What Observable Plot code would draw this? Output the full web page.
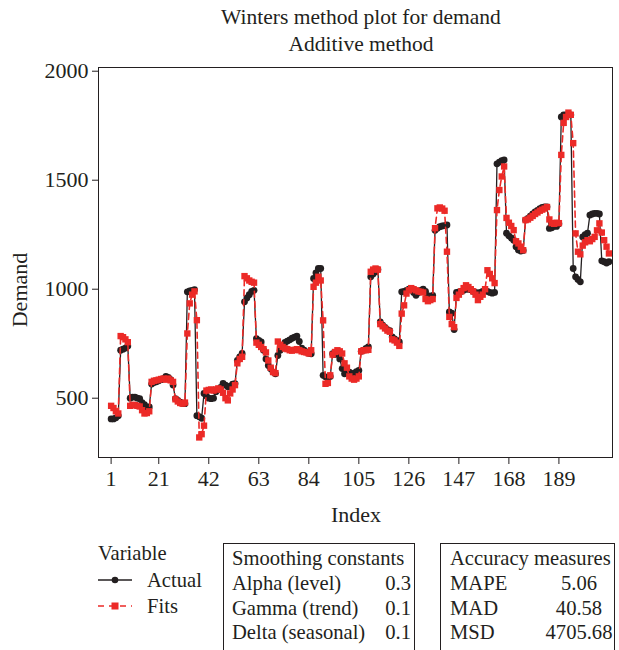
<!DOCTYPE html>
<html>
<head>
<meta charset="utf-8">
<script src="https://cdn.jsdelivr.net/npm/d3@7"></script>
<script src="https://cdn.jsdelivr.net/npm/@observablehq/plot@0.6"></script>
<style>
  html, body { margin: 0; padding: 0; background: #fff; overflow: hidden; }
  #wrap { position: relative; width: 619px; height: 650px; font-family: "Liberation Serif", serif; color: #231f20; }
  .t { position: absolute; white-space: nowrap; line-height: 1; }
  #chart { position: absolute; left: 0; top: 60px; }
  .box { position: absolute; border: 1px solid #231f20; }
  .lg { font-size: 20.6px; }
</style>
</head>
<body>
<div id="wrap">
  <div class="t" style="left:0;width:722px;text-align:center;top:7px;font-size:21.5px;">Winters method plot for demand</div>
  <div class="t" style="left:0;width:722px;text-align:center;top:34px;font-size:21.5px;">Additive method</div>
  <div id="chart"></div>
  <div class="t" style="left:0;width:712px;text-align:center;top:504px;font-size:22px;">Index</div>
  <div class="t" style="left:20px;top:290px;font-size:22px;transform:translate(-50%,-50%) rotate(-90deg);">Demand</div>

  <div class="t lg" style="left:98px;top:543px;">Variable</div>
  <svg style="position:absolute;left:95px;top:570px;" width="45" height="50">
    <line x1="3" x2="37" y1="10" y2="10" stroke="#231f20" stroke-width="1.3"/>
    <circle cx="20" cy="10" r="3.3" fill="#231f20"/>
    <line x1="3" x2="37" y1="36" y2="36" stroke="#ec2a27" stroke-width="1.6" stroke-dasharray="6,5"/>
    <rect x="16.5" y="32.5" width="7" height="7" fill="#ec2a27"/>
  </svg>
  <div class="t lg" style="left:147px;top:570px;">Actual</div>
  <div class="t lg" style="left:147px;top:596px;">Fits</div>

  <div class="box" style="left:223px;top:543px;width:190px;height:120px;"></div>
  <div class="t lg" style="left:232px;top:548px;">Smoothing constants</div>
  <div class="t lg" id="s1" style="left:232px;top:573px;"></div>
  <div class="t lg" id="s2" style="left:232px;top:598px;"></div>
  <div class="t lg" id="s3" style="left:232px;top:622px;"></div>
  <div class="t lg" id="v1" style="left:351px;width:60px;text-align:right;top:573px;"></div>
  <div class="t lg" id="v2" style="left:351px;width:60px;text-align:right;top:598px;"></div>
  <div class="t lg" id="v3" style="left:351px;width:60px;text-align:right;top:622px;"></div>

  <div class="box" style="left:440px;top:543px;width:173px;height:120px;"></div>
  <div class="t lg" style="left:450px;top:548px;">Accuracy measures</div>
  <div class="t lg" id="a1" style="left:450px;top:573px;"></div>
  <div class="t lg" id="a2" style="left:450px;top:598px;"></div>
  <div class="t lg" id="a3" style="left:450px;top:622px;"></div>
  <div class="t lg" id="m1" style="left:529px;width:100px;text-align:center;top:573px;"></div>
  <div class="t lg" id="m2" style="left:529px;width:100px;text-align:center;top:598px;"></div>
  <div class="t lg" id="m3" style="left:529px;width:100px;text-align:center;top:622px;"></div>
</div>
<script>
const actual = [
  405, 405, 410, 420, 720, 725, 730, 740, 500, 505,
  505, 500, 498, 480, 470, 460, 460, 565, 572, 575,
  580, 585, 590, 600, 595, 585, 560, 498, 490, 482,
  476, 475, 988, 992, 995, 998, 420, 415, 408, 522,
  510, 500, 498, 500, 530, 540, 550, 568, 560, 552,
  555, 565, 567, 673, 690, 705, 942, 960, 975, 990,
  995, 773, 765, 758, 720, 680, 650, 635, 620, 612,
  696, 720, 740, 756, 762, 768, 775, 780, 785, 760,
  730, 720, 712, 706, 704, 1049, 1075, 1095, 1095, 605,
  598, 595, 600, 704, 700, 710, 680, 636, 612, 622,
  620, 605, 615, 622, 627, 715, 720, 728, 735, 1057,
  1070, 1080, 1090, 850, 835, 825, 815, 810, 781, 772,
  765, 758, 988, 990, 995, 1000, 998, 985, 972, 985,
  995, 1000, 990, 970, 965, 972, 1270, 1280, 1287, 1290,
  1292, 1295, 896, 890, 815, 985, 988, 990, 995, 1000,
  1000, 998, 990, 985, 982, 985, 990, 995, 990, 985,
  982, 985, 1575, 1583, 1590, 1593, 1257, 1245, 1235, 1225,
  1195, 1180, 1175, 1178, 1318, 1325, 1335, 1345, 1355, 1362,
  1370, 1375, 1378, 1378, 1279, 1282, 1290, 1288, 1300, 1790,
  1800, 1800, 1800, 1800, 1095, 1057, 1045, 1034, 1240, 1250,
  1257, 1340, 1345, 1348, 1348, 1345, 1130, 1126, 1120, 1126
];
const fits = [
  465, 455, 440, 430, 785, 780, 770, 757, 465, 470,
  468, 465, 462, 445, 430, 432, 440, 575, 580, 582,
  585, 588, 590, 585, 590, 582, 575, 495, 485, 478,
  475, 480, 797, 935, 975, 990, 858, 320, 335, 374,
  535, 538, 540, 535, 540, 545, 540, 525, 500, 490,
  522, 540, 560, 660, 680, 690, 1060, 1050, 1040, 1034,
  1030, 755, 745, 735, 725, 710, 673, 640, 620, 615,
  760, 745, 735, 728, 725, 720, 718, 722, 725, 720,
  715, 712, 710, 705, 720, 1011, 1030, 1057, 1040, 857,
  566, 570, 605, 700, 712, 720, 715, 705, 660, 640,
  600, 590, 585, 590, 600, 715, 720, 720, 722, 1080,
  1090, 1095, 1090, 840, 830, 820, 810, 805, 770, 765,
  755, 740, 888, 926, 980, 995, 1005, 1000, 995, 990,
  988, 985, 955, 945, 950, 955, 1280, 1371, 1375, 1370,
  1360, 1172, 873, 840, 826, 960, 975, 990, 1005, 1018,
  1010, 1000, 990, 975, 950, 965, 975, 1000, 1087, 1070,
  1050, 1028, 1363, 1455, 1517, 1563, 1327, 1305, 1290, 1271,
  1220, 1210, 1195, 1179, 1317, 1320, 1328, 1336, 1345, 1352,
  1360, 1365, 1370, 1377, 1320, 1303, 1300, 1305, 1303, 1616,
  1763, 1790, 1810, 1800, 1670, 1256, 1172, 1160, 1200, 1215,
  1225, 1220, 1230, 1240, 1270, 1302, 1260, 1225, 1195, 1164
];
const xTicks = [1, 21, 42, 63, 84, 105, 126, 147, 168, 189];
const yTicks = [500, 1000, 1500, 2000];
const smoothingLabels = ["Alpha (level)", "Gamma (trend)", "Delta (seasonal)"];
const smoothingValues = ["0.3", "0.1", "0.1"];
const accuracyLabels = ["MAPE", "MAD", "MSD"];
const accuracyValues = ["5.06", "40.58", "4705.68"];

smoothingLabels.forEach((s, k) => { document.getElementById("s" + (k + 1)).textContent = s; });
smoothingValues.forEach((s, k) => { document.getElementById("v" + (k + 1)).textContent = s; });
accuracyLabels.forEach((s, k) => { document.getElementById("a" + (k + 1)).textContent = s; });
accuracyValues.forEach((s, k) => { document.getElementById("m" + (k + 1)).textContent = s; });

const rowsA = actual.map((v, k) => ({ i: k + 1, v }));
const rowsF = fits.map((v, k) => ({ i: k + 1, v }));
const INK = "#231f20";
const RED = "#ec2a27";

const chart = Plot.plot({
  width: 619,
  height: 470,
  marginLeft: 98,
  marginRight: 7,
  marginTop: 7,
  marginBottom: 73,
  style: { fontFamily: "'Liberation Serif', serif", fontSize: "22px", color: INK, background: "white", overflow: "visible" },
  x: { domain: [-4.3, 211.5] },
  y: { domain: [228, 2017] },
  marks: [
    Plot.axisX({ ticks: xTicks, tickSize: 7, tickPadding: 6, tickFormat: d => String(d), label: null, stroke: INK, fill: INK, fontSize: 22 }),
    Plot.axisY({ ticks: yTicks, tickSize: 6, tickPadding: 4, tickFormat: d => String(d), label: null, stroke: INK, fill: INK, fontSize: 22 }),
    Plot.line(rowsA, { x: "i", y: "v", stroke: INK, strokeWidth: 1.3 }),
    Plot.dot(rowsA, { x: "i", y: "v", r: 3.4, fill: INK, stroke: "none" }),
    Plot.line(rowsF, { x: "i", y: "v", stroke: RED, strokeWidth: 1.6, strokeDasharray: "6,4" }),
    Plot.dot(rowsF, { x: "i", y: "v", symbol: "square", r: 3.6, fill: RED, stroke: "none" }),
    Plot.frame({ stroke: INK, strokeWidth: 1 })
  ]
});
document.getElementById("chart").appendChild(chart);
</script>
</body>
</html>
